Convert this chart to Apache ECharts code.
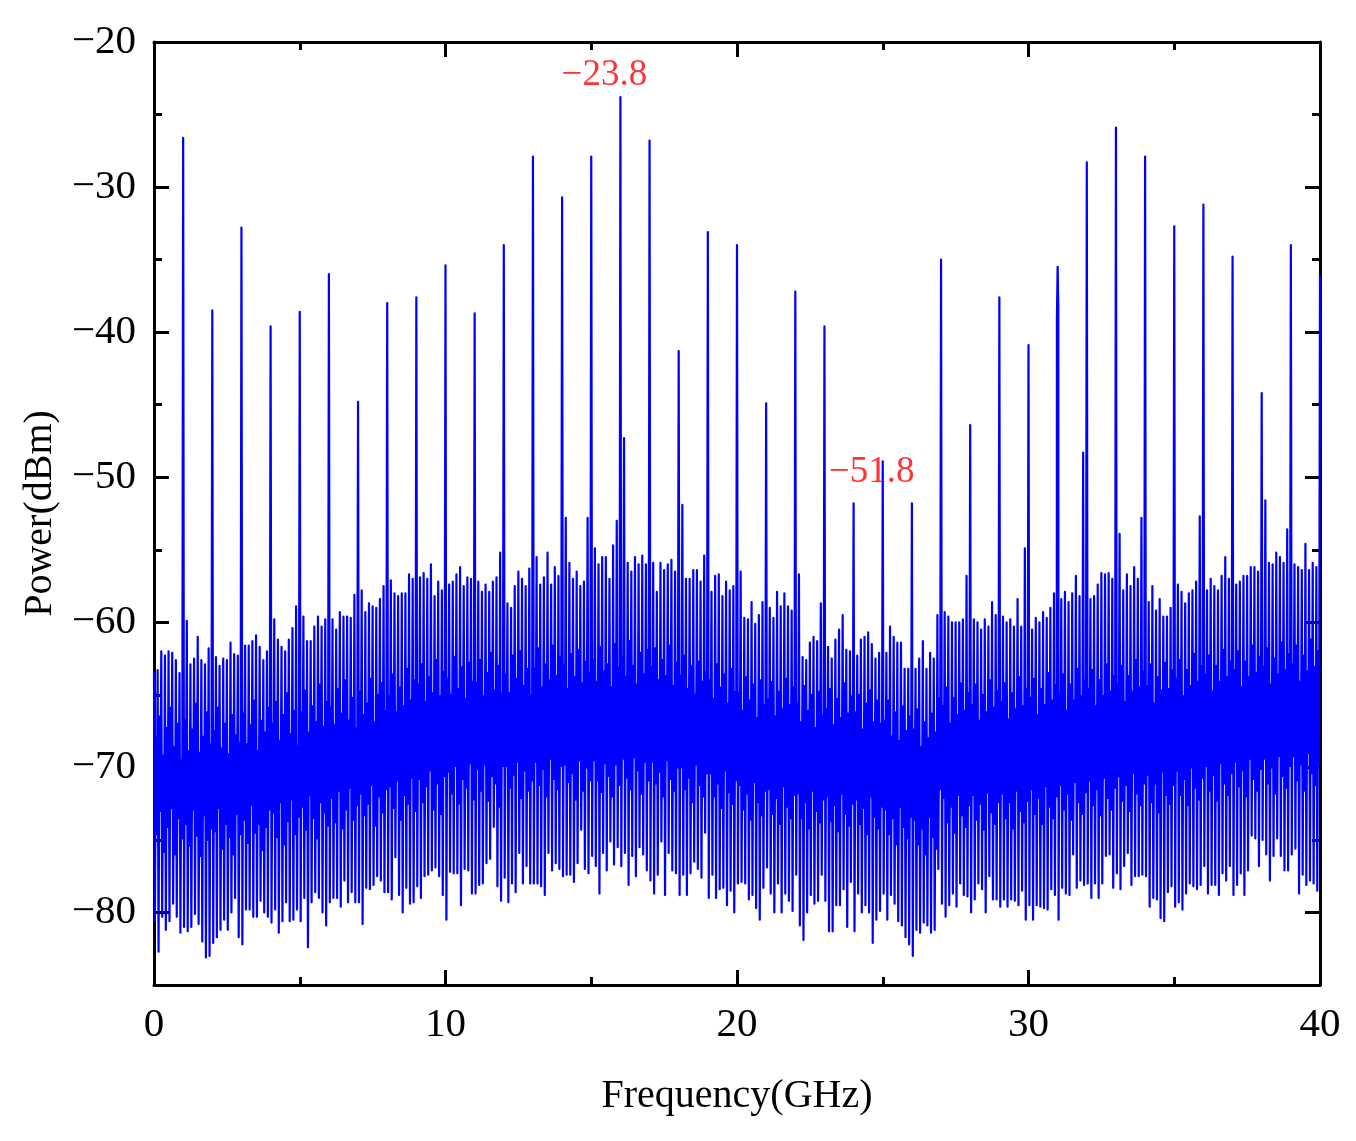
<!DOCTYPE html>
<html><head><meta charset="utf-8">
<script src="https://cdn.jsdelivr.net/npm/echarts@6/dist/echarts.min.js"></script>
<style>html,body{margin:0;padding:0;background:#fff;} #c{width:1356px;height:1141px;}</style>
</head><body><div id="c"></div>
<script>
// comb lines per GHz (index 0 of each row = harmonic at the integer GHz)
const linesPerGHz = 8;
// peak top of each comb line (dBm), one row per GHz
const peakTops = [
-63.4,-63.3,-62.0,-62.3,-62.0,-62.1,-62.6,-63.5,
-26.6,-59.9,-62.9,-62.5,-61.0,-62.6,-62.9,-61.8,
-38.5,-62.4,-63.0,-62.5,-62.6,-61.4,-62.2,-62.3,
-32.8,-61.6,-61.6,-61.3,-60.9,-61.7,-62.6,-62.0,
-39.6,-59.8,-61.2,-61.7,-62.0,-61.2,-60.4,-58.9,
-38.6,-59.6,-61.3,-61.3,-60.3,-59.6,-60.3,-59.8,
-36.0,-59.8,-60.5,-59.3,-59.6,-59.6,-59.7,-58.1,
-44.8,-57.8,-59.3,-58.7,-58.9,-59.0,-58.4,-57.5,
-38.0,-57.1,-58.0,-58.2,-58.0,-58.0,-56.7,-57.0,
-37.6,-56.9,-56.6,-57.0,-56.0,-58.2,-57.2,-57.8,
-35.4,-57.4,-57.2,-56.7,-56.2,-57.5,-56.9,-57.0,
-38.7,-57.2,-57.9,-57.4,-57.9,-57.2,-56.9,-55.2,
-34.0,-58.7,-59.0,-57.5,-56.5,-57.0,-57.5,-56.3,
-27.9,-55.5,-57.4,-56.9,-55.2,-57.4,-56.2,-56.8,
-30.7,-52.8,-55.9,-57.0,-56.5,-57.5,-57.2,-52.8,
-27.9,-54.9,-56.0,-55.5,-55.5,-57.0,-54.7,-53.0,
-23.8,-47.3,-55.9,-56.5,-55.5,-56.0,-55.4,-56.0,
-26.8,-55.9,-57.9,-55.9,-56.4,-56.0,-55.7,-56.5,
-41.3,-51.9,-57.0,-57.0,-56.4,-56.4,-57.2,-55.4,
-33.1,-57.9,-56.8,-56.7,-58.2,-57.2,-57.8,-57.5,
-34.0,-56.5,-59.7,-59.8,-58.6,-60.1,-59.5,-58.6,
-44.9,-59.0,-59.7,-57.9,-58.9,-58.0,-58.9,-59.2,
-37.2,-56.7,-62.4,-62.6,-61.4,-61.0,-61.3,-58.7,
-39.6,-61.7,-62.5,-61.2,-60.5,-59.5,-61.9,-62.0,
-51.8,-62.3,-61.2,-61.0,-60.7,-61.5,-62.5,-62.1,
-48.9,-62.1,-60.3,-61.0,-61.4,-61.4,-63.2,-63.2,
-51.8,-63.2,-62.5,-61.3,-63.2,-62.1,-62.5,-59.5,
-35.0,-59.3,-59.6,-60.0,-60.0,-60.0,-59.8,-56.8,
-46.4,-59.8,-60.0,-60.5,-59.8,-60.3,-58.6,-59.5,
-37.6,-59.6,-60.0,-59.8,-60.3,-58.4,-60.3,-54.9,
-40.9,-60.5,-59.7,-60.0,-59.3,-59.7,-59.0,-58.0,
-35.5,-58.4,-57.9,-58.6,-58.0,-56.8,-58.2,-48.3,
-28.3,-58.4,-58.2,-57.4,-56.6,-56.7,-56.6,-57.0,
-25.9,-53.9,-57.8,-56.7,-57.5,-56.2,-57.0,-52.8,
-27.9,-58.6,-57.5,-59.2,-58.4,-59.6,-59.6,-59.0,
-32.7,-57.4,-57.9,-58.7,-58.0,-57.8,-57.2,-52.7,
-31.2,-57.8,-57.0,-57.5,-57.8,-56.8,-55.5,-57.0,
-34.8,-57.4,-57.2,-56.8,-56.8,-56.2,-56.2,-56.5,
-44.2,-51.6,-55.9,-56.0,-55.2,-55.5,-55.9,-53.6,
-34.0,-56.0,-56.2,-56.4,-54.6,-56.4,-55.9,-56.2
];
// harmonic at 40 GHz (last point)
const endValue = -36.1;
// deepest dip after each comb line
const troughs = [
-80.6,-82.7,-80.3,-81.2,-80.6,-79.4,-80.3,-81.4,
-81.0,-81.3,-81.0,-80.1,-80.8,-82.0,-83.1,-83.0,
-82.1,-81.7,-81.2,-80.5,-81.2,-80.0,-79.0,-81.7,
-82.2,-79.8,-79.8,-80.3,-80.3,-79.2,-80.0,-80.3,
-80.7,-79.8,-81.4,-80.6,-79.3,-80.6,-80.5,-79.8,
-80.6,-79.0,-82.4,-79.3,-78.6,-79.0,-80.0,-80.9,
-79.3,-79.0,-79.0,-79.6,-77.8,-79.3,-78.6,-79.3,
-79.3,-80.8,-78.3,-78.4,-78.1,-77.5,-77.8,-78.6,
-78.6,-79.1,-76.2,-78.8,-80.0,-78.3,-79.4,-79.3,
-78.2,-79.0,-77.5,-77.4,-77.1,-76.9,-77.5,-78.8,
-80.5,-77.2,-77.3,-77.3,-79.5,-77.0,-77.1,-78.7,
-78.7,-78.1,-78.0,-76.6,-76.3,-74.1,-78.2,-79.2,
-77.6,-79.3,-78.0,-78.6,-75.9,-78.0,-76.8,-78.0,
-78.0,-78.0,-78.2,-78.8,-75.9,-77.1,-76.6,-77.0,
-77.5,-77.4,-77.4,-77.9,-76.6,-74.3,-77.0,-77.3,
-76.1,-76.8,-78.7,-75.9,-77.1,-75.1,-76.7,-75.5,
-76.8,-75.9,-78.1,-76.1,-77.5,-75.5,-76.0,-77.1,
-77.8,-78.7,-77.4,-75.1,-78.8,-75.9,-77.1,-77.3,
-78.8,-77.4,-78.8,-77.3,-76.5,-77.0,-77.6,-74.5,
-79.0,-77.4,-79.0,-78.4,-78.3,-79.5,-78.5,-80.0,
-78.0,-77.9,-78.0,-79.1,-78.8,-79.7,-80.5,-78.3,
-76.9,-78.7,-80.0,-78.0,-80.0,-78.7,-79.2,-79.9,
-77.4,-80.9,-81.9,-80.0,-78.8,-79.4,-79.2,-77.4,
-79.2,-81.3,-81.3,-79.5,-79.5,-78.4,-81.0,-77.9,
-81.3,-78.7,-80.0,-79.5,-80.0,-82.1,-80.5,-79.9,
-78.7,-80.5,-78.8,-79.4,-80.6,-80.9,-81.7,-82.2,
-83.0,-81.2,-81.4,-80.7,-80.9,-81.4,-81.2,-77.0,
-79.4,-80.3,-79.5,-78.7,-79.6,-78.0,-78.8,-78.9,
-80.0,-79.1,-78.0,-78.4,-80.0,-77.5,-79.1,-79.1,
-79.6,-79.1,-79.6,-79.1,-79.2,-79.5,-78.5,-80.5,
-79.5,-80.5,-79.5,-79.6,-79.7,-79.8,-78.4,-78.8,
-80.5,-78.3,-78.7,-78.8,-76.0,-78.3,-77.8,-78.1,
-78.0,-79.0,-78.0,-79.0,-78.0,-76.1,-76.0,-78.3,
-77.3,-78.4,-76.8,-75.9,-78.1,-77.5,-77.5,-77.4,
-77.5,-79.6,-79.0,-79.1,-80.4,-80.6,-78.6,-78.2,
-79.6,-79.3,-79.8,-78.7,-78.0,-78.2,-78.4,-78.1,
-76.8,-78.7,-78.1,-78.1,-78.8,-77.3,-77.8,-76.8,
-78.8,-78.1,-77.3,-78.8,-77.1,-74.7,-74.9,-76.8,
-75.0,-76.0,-77.8,-76.1,-74.9,-76.1,-77.1,-77.1,
-76.0,-75.6,-78.7,-77.4,-78.1,-77.8,-78.0,-78.5
];
// upper level of the dense noise band between comb lines
const bandHigh = [
-68.0,-66.5,-69.2,-67.3,-65.9,-68.6,-67.0,-69.5,
-66.8,-68.9,-67.4,-65.6,-69.0,-67.9,-66.2,-68.4,
-67.5,-65.9,-68.7,-67.0,-69.1,-66.4,-67.8,-68.3,
-66.3,-68.4,-67.1,-65.4,-68.9,-66.8,-67.6,-65.9,
-67.0,-65.5,-68.2,-66.4,-64.9,-67.7,-66.1,-68.5,
-66.2,-64.7,-67.6,-65.8,-66.9,-64.3,-67.2,-65.5,
-65.9,-67.1,-64.6,-66.3,-64.0,-66.8,-65.2,-67.3,
-64.8,-66.4,-65.6,-63.9,-66.9,-65.0,-64.2,-66.1,
-65.1,-63.6,-66.2,-64.5,-65.8,-63.2,-65.4,-64.0,
-64.3,-62.9,-65.5,-63.8,-64.9,-62.6,-65.1,-63.4,
-63.9,-65.0,-62.4,-64.6,-63.1,-65.3,-62.8,-64.1,
-64.2,-62.6,-65.1,-63.5,-62.1,-64.7,-63.0,-64.9,
-63.6,-64.9,-62.3,-63.9,-62.0,-64.4,-63.2,-65.0,
-63.2,-61.8,-64.5,-62.9,-64.0,-61.6,-63.7,-62.4,
-63.0,-64.6,-62.2,-63.8,-61.9,-64.2,-62.7,-63.5,
-62.6,-64.1,-61.7,-63.4,-62.9,-64.5,-61.5,-63.1,
-62.4,-63.8,-61.3,-63.0,-64.3,-62.1,-63.6,-61.9,
-63.1,-61.8,-64.0,-62.6,-63.7,-61.6,-64.4,-62.8,
-63.7,-62.3,-64.6,-63.0,-65.0,-62.7,-64.1,-63.4,
-64.0,-65.3,-62.9,-64.5,-63.6,-65.6,-63.2,-64.8,
-64.9,-66.1,-63.8,-65.4,-64.3,-66.6,-64.0,-65.7,
-65.3,-64.1,-66.5,-64.8,-66.0,-63.9,-65.7,-64.5,
-65.6,-66.9,-64.4,-66.1,-65.0,-67.3,-64.8,-66.4,
-66.0,-64.6,-67.1,-65.3,-66.6,-64.2,-66.3,-65.1,
-66.2,-65.0,-67.4,-65.6,-64.7,-66.9,-65.4,-67.0,
-66.8,-65.4,-67.9,-66.2,-68.2,-65.8,-67.5,-66.5,
-67.4,-66.0,-68.6,-66.9,-68.0,-66.3,-67.6,-65.2,
-65.8,-64.5,-67.0,-65.2,-66.4,-64.2,-66.1,-64.9,
-65.7,-64.3,-66.8,-65.0,-66.2,-64.0,-65.9,-64.7,
-65.5,-64.2,-66.7,-64.9,-66.0,-63.8,-65.8,-64.6,
-65.2,-63.9,-66.4,-64.6,-65.7,-63.5,-65.4,-64.3,
-64.9,-63.6,-66.1,-64.3,-65.4,-63.2,-65.1,-64.0,
-64.6,-63.3,-65.8,-64.0,-65.1,-62.9,-64.8,-63.7,
-64.3,-63.0,-65.5,-63.7,-64.8,-62.6,-64.5,-63.4,
-64.4,-62.9,-65.6,-63.8,-64.7,-62.8,-64.6,-63.3,
-63.9,-62.6,-65.1,-63.3,-64.4,-62.2,-64.1,-63.0,
-63.6,-62.3,-64.8,-63.0,-64.1,-61.9,-63.8,-62.7,
-63.3,-62.0,-64.5,-62.7,-63.8,-61.6,-63.5,-62.4,
-63.1,-61.8,-64.3,-62.5,-63.6,-61.4,-63.3,-62.2,
-62.9,-61.6,-64.1,-62.3,-63.4,-61.2,-63.1,-62.0
];
// lower level of the dense noise band between comb lines
const bandLow = [
-74.6,-73.0,-75.8,-74.1,-72.8,-76.0,-73.5,-74.9,
-73.9,-75.4,-72.9,-74.7,-76.1,-73.3,-75.0,-74.2,
-74.4,-72.8,-75.6,-73.9,-74.8,-76.0,-73.2,-74.6,
-73.6,-75.2,-72.6,-74.5,-73.9,-75.7,-74.1,-72.9,
-73.1,-74.8,-72.4,-75.3,-73.7,-72.2,-74.6,-73.4,
-72.7,-74.3,-71.9,-73.5,-74.9,-72.4,-73.1,-74.0,
-72.1,-73.8,-71.6,-74.2,-72.9,-71.4,-73.6,-72.6,
-71.8,-73.3,-72.5,-71.2,-74.0,-72.0,-73.1,-71.5,
-71.3,-72.8,-70.9,-73.6,-71.9,-72.5,-70.7,-73.0,
-70.8,-72.4,-71.3,-70.2,-72.9,-71.1,-73.2,-70.6,
-70.3,-71.8,-69.9,-72.5,-70.8,-71.4,-69.7,-72.2,
-70.1,-71.6,-69.8,-72.3,-70.6,-71.1,-72.7,-69.9,
-69.9,-71.4,-70.5,-69.6,-72.1,-70.2,-71.6,-70.9,
-69.6,-71.2,-70.1,-72.0,-69.4,-70.8,-71.5,-69.9,
-69.8,-71.0,-70.4,-72.2,-69.5,-71.6,-70.0,-70.9,
-69.5,-70.9,-71.7,-69.7,-70.6,-72.0,-69.8,-71.2,
-69.4,-70.7,-71.5,-69.3,-70.2,-71.8,-69.6,-70.9,
-69.6,-71.1,-70.3,-72.0,-69.5,-70.8,-71.6,-70.0,
-70.0,-71.5,-70.7,-72.4,-69.8,-71.2,-72.0,-70.4,
-70.4,-72.0,-71.1,-72.8,-70.2,-71.7,-72.5,-70.9,
-71.2,-72.9,-71.8,-73.6,-71.0,-72.4,-73.3,-71.6,
-71.5,-73.2,-72.1,-73.9,-71.3,-72.7,-73.5,-71.9,
-71.8,-73.5,-72.4,-74.2,-71.6,-73.0,-73.8,-72.2,
-72.0,-73.7,-72.6,-74.4,-71.8,-73.2,-74.0,-72.5,
-72.2,-73.9,-72.8,-74.6,-72.0,-73.4,-74.2,-72.7,
-72.9,-74.6,-73.5,-75.3,-72.7,-74.1,-74.9,-73.4,
-73.6,-75.3,-74.2,-76.0,-73.4,-74.8,-75.6,-71.5,
-72.1,-73.8,-72.7,-74.5,-71.9,-73.3,-74.1,-72.6,
-71.9,-73.6,-72.5,-74.3,-71.7,-73.1,-73.9,-72.4,
-71.8,-73.5,-72.4,-74.2,-71.6,-73.0,-73.8,-72.3,
-71.5,-73.2,-72.1,-73.9,-71.3,-72.7,-73.5,-72.0,
-71.2,-72.9,-71.8,-73.6,-71.0,-72.4,-73.2,-71.7,
-70.9,-72.6,-71.5,-73.3,-70.7,-72.1,-72.9,-71.4,
-70.6,-72.3,-71.2,-73.0,-70.4,-71.8,-72.6,-71.1,
-70.5,-72.4,-71.1,-73.1,-70.3,-71.9,-72.5,-71.2,
-70.2,-71.9,-70.8,-72.6,-70.0,-71.4,-72.2,-70.7,
-69.9,-71.6,-70.5,-72.3,-69.7,-71.1,-71.9,-70.4,
-69.6,-71.3,-70.2,-72.0,-69.4,-70.8,-71.6,-70.1,
-69.4,-71.1,-70.0,-71.8,-69.2,-70.6,-71.4,-69.9,
-69.2,-70.9,-69.8,-71.6,-69.0,-70.4,-71.2,-69.7
];
// shoulders of the broad 31 GHz line [GHz, dBm]
const shoulder31 = [[30.975, -39.0], [31.022, -38.2]];
const xMajorTicks = [0, 10, 20, 30, 40];
const xMinorTicks = [5, 15, 25, 35];
const yMajorTicks = [-80, -70, -60, -50, -40, -30, -20];
const yMinorTicks = [-75, -65, -55, -45, -35, -25];
const annotations = [
  {freq: 16, power: -23.8, text: '\u221223.8'},
  {freq: 24, power: -51.8, text: '\u221251.8'}
];

const step = 1 / linesPerGHz;
const pts = [];
for (let i = 0; i < peakTops.length; i++) {
  const x0 = i * step;
  pts.push([x0, peakTops[i]]);
  pts.push([x0 + step / 4, troughs[i]]);
  pts.push([x0 + step / 2, bandHigh[i]]);
  pts.push([x0 + 3 * step / 4, bandLow[i]]);
}
pts.push([40, endValue]);
shoulder31.forEach(p => pts.push(p));
pts.sort((a, b) => a[0] - b[0]);

const FONT = '"Liberation Serif","Times New Roman",serif';
const minus = v => String(v).replace('-', '\u2212');
const BLACK = '#000';

function xAxisDef(pos, ticks, len, showLine, withLabels) {
  const a = {
    type: 'value', position: pos, min: 0, max: 40,
    axisLine: {show: showLine, onZero: false, lineStyle: {color: BLACK, width: 3}},
    axisTick: {show: true, inside: true, length: len, customValues: ticks, lineStyle: {color: BLACK, width: 3}},
    axisLabel: {show: false},
    splitLine: {show: false}
  };
  if (withLabels) {
    a.axisLabel = {show: true, customValues: ticks, fontFamily: FONT, fontSize: 41, color: BLACK, margin: 20};
    a.name = 'Frequency(GHz)';
    a.nameLocation = 'middle';
    a.nameGap = 91;
    a.nameTextStyle = {fontFamily: FONT, fontSize: 40, color: BLACK};
  }
  return a;
}
function yAxisDef(pos, ticks, len, showLine, withLabels) {
  const a = {
    type: 'value', position: pos, min: -85, max: -20,
    axisLine: {show: showLine, onZero: false, lineStyle: {color: BLACK, width: 3}},
    axisTick: {show: true, inside: true, length: len, customValues: ticks, lineStyle: {color: BLACK, width: 3}},
    axisLabel: {show: false},
    splitLine: {show: false}
  };
  if (withLabels) {
    a.axisLabel = {show: true, customValues: ticks, fontFamily: FONT, fontSize: 41, color: BLACK, margin: 18, formatter: minus};
    a.name = 'Power(dBm)';
    a.nameLocation = 'middle';
    a.nameGap = 91;
    a.nameRotate = 90;
    a.nameTextStyle = {fontFamily: FONT, fontSize: 40, color: BLACK};
  }
  return a;
}

const annotationOffsets = [[-16, -22], [18, -31]];

const chart = echarts.init(document.getElementById('c'), null, {renderer: 'canvas'});
chart.setOption({
  animation: false,
  backgroundColor: '#fff',
  grid: {left: 154, right: 36, top: 42, bottom: 156, containLabel: false},
  xAxis: [
    xAxisDef('bottom', xMajorTicks, 15, true, true),
    xAxisDef('bottom', xMinorTicks, 8, false, false),
    xAxisDef('top', xMajorTicks, 15, true, false),
    xAxisDef('top', xMinorTicks, 8, false, false)
  ],
  yAxis: [
    yAxisDef('left', yMajorTicks, 15, true, true),
    yAxisDef('left', yMinorTicks, 8, false, false),
    yAxisDef('right', yMajorTicks, 15, true, false),
    yAxisDef('right', yMinorTicks, 8, false, false)
  ],
  series: [
    {
      type: 'line', xAxisIndex: 0, yAxisIndex: 0, data: pts,
      symbol: 'none', showSymbol: false, sampling: null, clip: true,
      lineStyle: {color: '#0000ff', width: 2.2, join: 'round'}, z: 1
    },
    {
      type: 'scatter', xAxisIndex: 0, yAxisIndex: 0, symbolSize: 0, z: 5,
      data: annotations.map((a, i) => ({
        value: [a.freq, a.power],
        label: {show: true, position: 'inside', offset: annotationOffsets[i],
          formatter: a.text, fontFamily: FONT, fontSize: 37, color: '#ff0000'}
      }))
    }
  ]
});
</script>
</body></html>
